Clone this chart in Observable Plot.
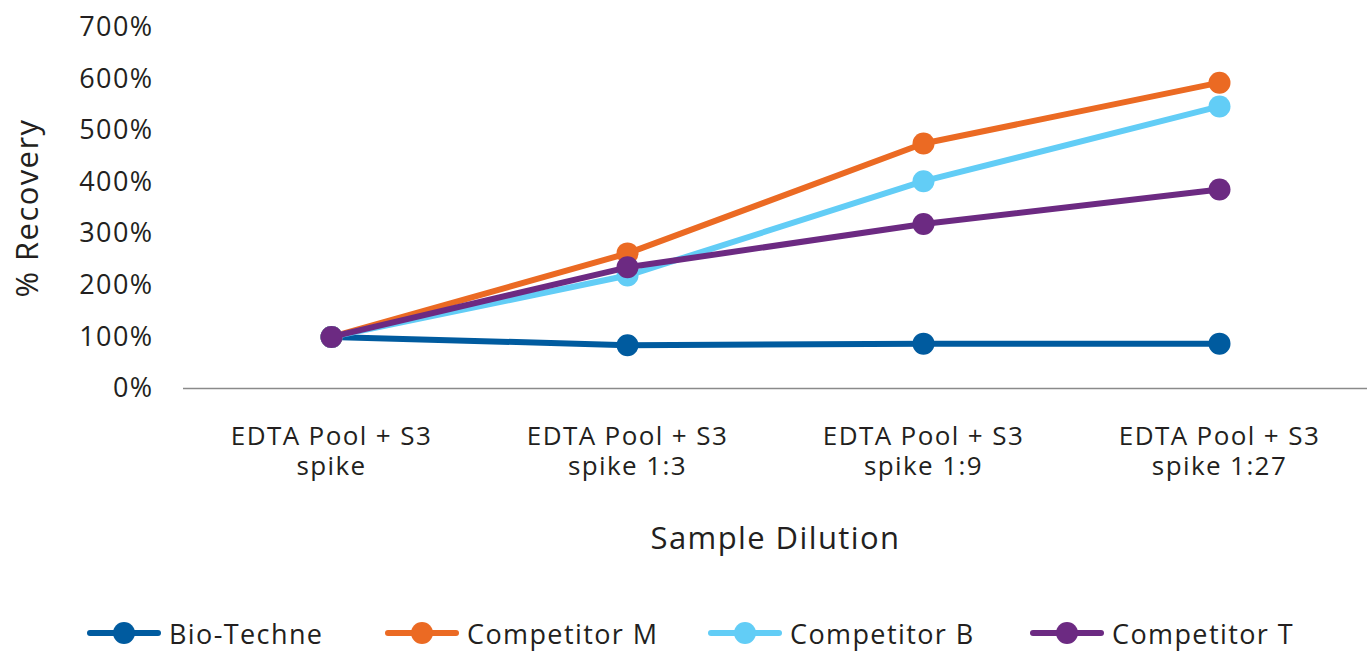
<!DOCTYPE html>
<html>
<head>
<meta charset="utf-8">
<script src="https://cdn.jsdelivr.net/npm/d3@7"></script>
<script src="https://cdn.jsdelivr.net/npm/@observablehq/plot@0.6"></script>
<style>
  body { margin: 0; background: #fff; font-family: "Open Sans", "Noto Sans", sans-serif; }
  svg text { letter-spacing: 1.4px; }
  #legend { height: 82px; position: relative; font-size: 27px; letter-spacing: 1.4px; color: #231f20; }
  .item { position: absolute; top: 22px; height: 82px; display: flex; align-items: center; }
  .sw { position: relative; width: 74px; height: 22px; margin-right: 8px; }
  .sw .ln { position: absolute; left: 0; right: 0; top: 8px; height: 6px; border-radius: 3px; }
  .sw .dt { position: absolute; left: 26px; top: 0; width: 22px; height: 22px; border-radius: 50%; }
</style>
</head>
<body>
<div id="chart"></div>
<div id="legend"></div>
<script>
const categories = ["EDTA Pool + S3\nspike", "EDTA Pool + S3\nspike 1:3", "EDTA Pool + S3\nspike 1:9", "EDTA Pool + S3\nspike 1:27"];
const seriesNames = ["Bio-Techne", "Competitor M", "Competitor B", "Competitor T"];
const seriesColors = ["#005b9f", "#eb6a23", "#62cdf6", "#6c2a82"];
const bioTechne = [100, 84, 87, 87];
const competitorM = [100, 262, 475, 593];
const competitorB = [100, 219, 402, 547];
const competitorT = [100, 235, 319, 386];
const yTicks = [0, 100, 200, 300, 400, 500, 600, 700];

const allValues = [bioTechne, competitorM, competitorB, competitorT];
const marks = [Plot.ruleY([0], {stroke: "#8a8a8a", strokeWidth: 1.5})];
allValues.forEach((vals, i) => {
  const rows = categories.map((c, j) => ({cat: c, v: vals[j]}));
  marks.push(Plot.line(rows, {x: "cat", y: "v", stroke: seriesColors[i], strokeWidth: 6}));
  marks.push(Plot.dot(rows, {x: "cat", y: "v", fill: seriesColors[i], r: 11}));
});
marks.push(Plot.axisY({ticks: yTicks, tickFormat: d => d + "%", tickSize: 0, tickPadding: 30, fontSize: 27, label: null, fill: "#231f20"}));
marks.push(Plot.axisX({tickSize: 0, tickPadding: 35, fontSize: 26, lineHeight: 1.15, label: null, fill: "#231f20"}));
marks.push(Plot.text(["% Recovery"], {frameAnchor: "left", dx: -155, rotate: -90, textAnchor: "middle", fontSize: 31, fill: "#231f20"}));
marks.push(Plot.text(["Sample Dilution"], {frameAnchor: "bottom", dy: 160, fontSize: 31, fill: "#231f20"}));

const chart = Plot.plot({
  width: 1369,
  height: 570,
  marginLeft: 183,
  marginRight: 2,
  marginTop: 27,
  marginBottom: 182,
  style: {fontFamily: "'Open Sans', 'Noto Sans', sans-serif", color: "#231f20"},
  x: {type: "point", domain: categories, padding: 0.5, axis: null},
  y: {domain: [0, 700], axis: null},
  marks
});
document.getElementById("chart").appendChild(chart);

const legend = document.getElementById("legend");
const lefts = [87, 385, 708, 1030];
seriesNames.forEach((name, i) => {
  const it = document.createElement("div");
  it.className = "item";
  it.style.left = lefts[i] + "px";
  it.innerHTML = `<div class="sw"><div class="ln" style="background:${seriesColors[i]}"></div><div class="dt" style="background:${seriesColors[i]}"></div></div><span>${name}</span>`;
  legend.appendChild(it);
});
</script>
</body>
</html>
